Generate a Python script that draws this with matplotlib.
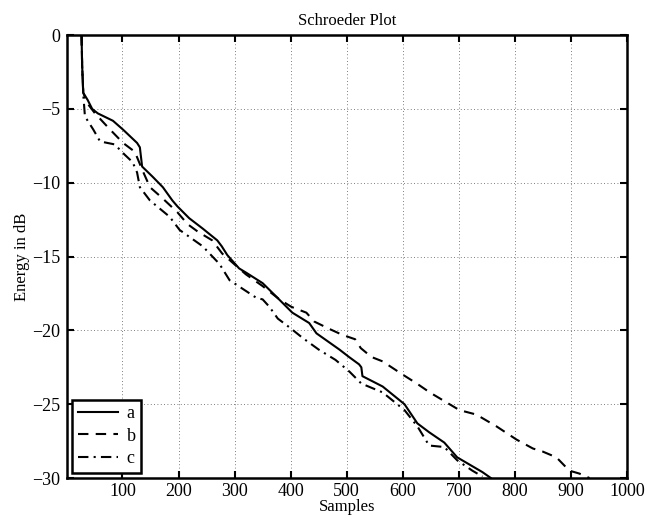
import matplotlib
matplotlib.use("Agg")
import matplotlib.pyplot as plt

plt.rcParams['font.family'] = ['Liberation Serif', 'DejaVu Serif']
plt.rcParams['font.size'] = 12

# curve a (solid)
a_x = [27, 28, 30, 38, 46, 56, 83, 101, 126, 131, 135, 154, 172, 189, 198, 219, 243, 269,
       277, 287, 308, 321, 350, 374, 403, 433, 446, 487, 504, 522, 526, 528, 564, 603,
       626, 647, 674, 697, 715, 742, 757]
a_y = [0, -2.0, -3.9, -4.4, -5.0, -5.3, -5.8, -6.4, -7.3, -7.6, -8.9, -9.6, -10.3, -11.2,
       -11.6, -12.4, -13.1, -13.9, -14.3, -14.9, -15.8, -16.1, -16.8, -17.7, -18.8, -19.5,
       -20.2, -21.3, -21.8, -22.3, -22.5, -23.1, -23.8, -25.0, -26.3, -26.9, -27.6, -28.6,
       -29.0, -29.6, -30.0]

# curve b (dashed)
b_x = [27, 28, 30, 37, 51, 78, 101, 122, 135, 149, 170, 198, 216, 234, 260, 278, 290,
       320, 350, 380, 401, 428, 442, 469, 492, 515, 525, 544, 564, 600, 625, 648, 701,
       731, 767, 803, 832, 849, 874, 897, 915, 933]
b_y = [0, -2.0, -3.9, -4.6, -5.3, -6.4, -7.3, -7.9, -9.1, -10.3, -11.0, -12.0, -12.8,
       -13.3, -13.9, -14.8, -15.2, -16.2, -17.0, -17.9, -18.4, -18.8, -19.4, -19.9, -20.3,
       -20.6, -21.2, -21.8, -22.1, -23.0, -23.6, -24.2, -25.4, -25.7, -26.5, -27.4, -28.0,
       -28.2, -28.6, -29.5, -29.7, -30.0]

# curve c (dash-dot)
c_x = [27, 28, 30, 33, 48, 60, 86, 104, 118, 126, 131, 149, 184, 202, 243, 273, 291,
       339, 350, 362, 377, 398, 421, 450, 480, 505, 526, 564, 603, 626, 647, 674, 697,
       724, 742]
c_y = [0, -2.0, -4.0, -5.5, -6.4, -7.2, -7.4, -8.1, -8.6, -9.3, -10.3, -11.2, -12.3,
       -13.2, -14.3, -15.5, -16.6, -17.8, -17.9, -18.4, -19.2, -19.8, -20.5, -21.3, -22.0,
       -22.8, -23.6, -24.2, -25.4, -26.5, -27.8, -27.9, -28.8, -29.5, -29.9]

fig = plt.figure(figsize=(6.58, 5.17), dpi=100)
ax = fig.add_axes([0.1018, 0.0754, 0.8512, 0.8566])

ax.plot(a_x, a_y, color='black', lw=1.5, ls='-', label='a')
ax.plot(b_x, b_y, color='black', lw=1.5, ls=(0, (5, 3.5)), label='b')
ax.plot(c_x, c_y, color='black', lw=1.5, ls=(0, (5, 2.5, 1, 2.5)), label='c')

ax.set_xlim(1, 1000)
ax.set_ylim(-30, 0)
ax.set_xticks(range(100, 1001, 100))
ax.set_yticks(range(-30, 1, 5))
ax.set_yticklabels(['\u221230', '\u221225', '\u221220', '\u221215', '\u221210', '\u22125', '0'])

ax.grid(True, ls=(0, (1, 3)), color='#555555', lw=0.6)
ax.tick_params(direction='in', top=True, right=True, length=5, width=1.5, pad=5,
               labelsize=13)
ax.tick_params(axis='x', pad=3.5)
for sp in ax.spines.values():
    sp.set_linewidth(1.8)

ax.set_title('Schroeder Plot', fontsize=12, pad=7)
ax.set_xlabel('Samples', fontsize=12, labelpad=-0.5)
ax.set_ylabel('Energy in dB', fontsize=12, labelpad=1)

leg = ax.legend(loc='lower left', fancybox=False, edgecolor='black', framealpha=1,
                handlelength=2.2, borderaxespad=0.3, labelspacing=0.3, fontsize=13,
                handletextpad=0.5, borderpad=0.3)
leg.get_frame().set_linewidth(1.8)

fig.savefig('out.png', dpi=100)
